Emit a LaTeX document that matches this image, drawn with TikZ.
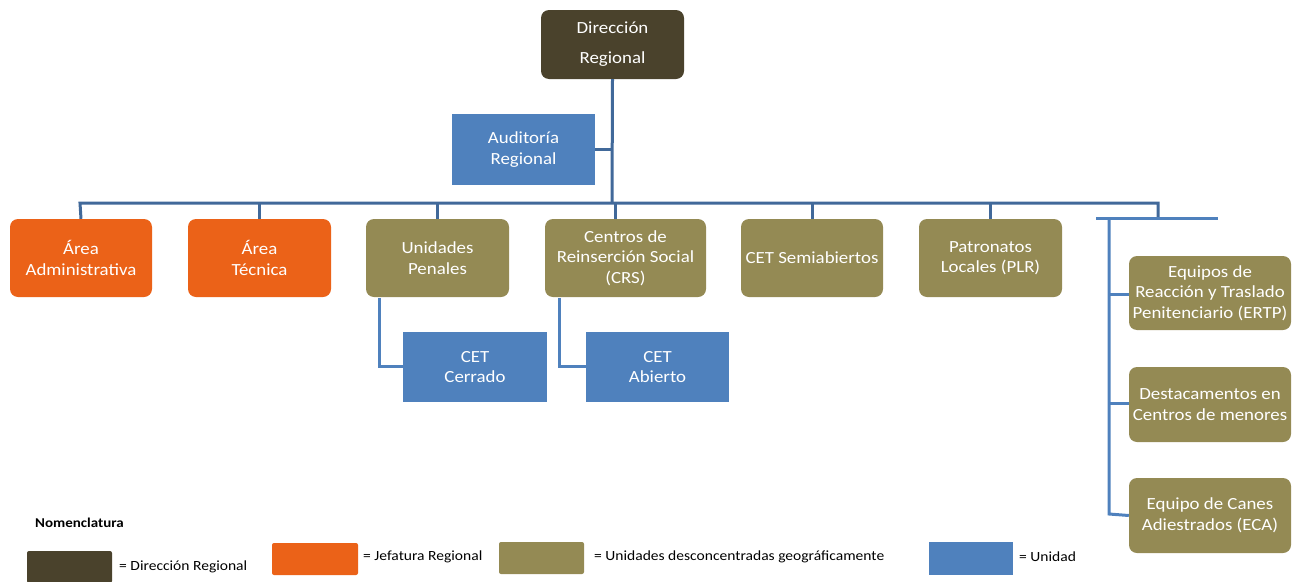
\documentclass[tikz,border=0pt]{standalone}
\usepackage{fontspec}
\setmainfont[FakeStretch=1.11]{Carlito}
\begin{document}
\begin{tikzpicture}[x=1pt,y=-1pt,
  box/.style={draw=none, rounded corners=8pt, text=white, align=center, inner sep=0pt,
    font=\fontsize{17}{20.5}\selectfont},
  dark/.style={box, fill=darkc},
  orng/.style={box, fill=orangec},
  olive/.style={box, fill=olivec},
  unit/.style={box, rounded corners=0pt, fill=bluec},
  bus/.style={draw=busc, line width=3pt},
  sub/.style={draw=bluec, line width=3pt},
  legtxt/.style={anchor=west, inner sep=0pt, font=\fontsize{14}{16}\selectfont}
]
\definecolor{darkc}{HTML}{4A422C}
\definecolor{orangec}{HTML}{EB6218}
\definecolor{olivec}{HTML}{948A54}
\definecolor{bluec}{HTML}{4F81BD}
\definecolor{busc}{HTML}{41699A}
\useasboundingbox (0,0) rectangle (1293,581);

% boxes
\node[dark, minimum width=143pt, minimum height=69pt, font=\fontsize{17}{30}\selectfont] (dr) at (612.5,44.5) {Dirección\\Regional};
\node[unit, minimum width=143pt, minimum height=71pt] (aud) at (523.5,149.5) {Auditoría\\Regional};

\node[orng, minimum width=142pt, minimum height=78pt] (adm) at (81,258) {Área\\Administrativa};
\node[orng, minimum width=143pt, minimum height=78pt] (tec) at (259.5,258) {Área\\Técnica};
\node[olive, minimum width=143pt, minimum height=78pt] (up) at (437.5,258) {Unidades\\Penales};
\node[olive, minimum width=161pt, minimum height=78pt] (crs) at (625.5,258) {Centros de\\Reinserción Social\\(CRS)};
\node[olive, minimum width=142pt, minimum height=78pt] (semi) at (812,258) {CET Semiabiertos};
\node[olive, minimum width=143pt, minimum height=78pt] (plr) at (990.5,258) {Patronatos\\Locales (PLR)};

\node[unit, minimum width=144pt, minimum height=70pt] (cer) at (475,367) {CET\\Cerrado};
\node[unit, minimum width=143pt, minimum height=70pt] (abi) at (657.5,367) {CET\\Abierto};

\node[olive, minimum width=162pt, minimum height=74pt] (ertp) at (1210,293) {Equipos de\\Reacción y Traslado\\Penitenciario (ERTP)};
\node[olive, minimum width=162pt, minimum height=75pt] (dcm) at (1210,404.5) {Destacamentos en\\Centros de menores};
\node[olive, minimum width=162pt, minimum height=75pt] (eca) at (1210,515.5) {Equipo de Canes\\Adiestrados (ECA)};

% connectors
\coordinate (b0) at (612,203);
\coordinate (bl) at (80,203);
\coordinate (br) at (1158,203);
\draw[bus] (dr.south) -- (b0);
\draw[bus] (aud.east) -- (aud.east -| b0);
\draw[bus] (adm.north) -- (bl) -- (br) -- (1158,217.5);
\draw[bus] (tec.north) -- (tec.north |- b0);
\draw[bus] (up.north) -- (up.north |- b0);
\draw[bus] (crs.north -| 615,0) -- (615,203);
\draw[bus] (semi.north) -- (semi.north |- b0);
\draw[bus] (plr.north) -- (plr.north |- b0);

\coordinate (r1) at (1096,218);
\coordinate (r2) at (1218,218);
\draw[sub] (r1) -- (r2);
\draw[sub] (1109,218) -- (1109,514) -- (eca.west);
\draw[sub] (1109,294) -- (ertp.west |- 0,294);
\draw[sub] (1109,403) -- (dcm.west |- 0,403);

\draw[sub] (379,298) -- (379,366) -- (cer.west |- 0,366);
\draw[sub] (559,298) -- (559,366) -- (abi.west |- 0,366);

% legend
\node[anchor=west, inner sep=0pt, font=\fontsize{13.5}{15}\selectfont\bfseries] (nom) at (35,523) {Nomenclatura};
\node[fill=darkc, rounded corners=2pt, minimum width=85pt, minimum height=32pt, inner sep=0pt] (l1) at (69.5,567) {};
\node[legtxt] (t1) at (119,567) {= Dirección Regional};
\node[fill=orangec, rounded corners=2pt, minimum width=86pt, minimum height=32pt, inner sep=0pt] (l2) at (315,559) {};
\node[legtxt] (t2) at (363,557) {= Jefatura Regional};
\node[fill=olivec, rounded corners=2pt, minimum width=85pt, minimum height=32pt, inner sep=0pt] (l3) at (541.5,558) {};
\node[legtxt] (t3) at (594,557) {= Unidades desconcentradas geográficamente};
\node[fill=bluec, minimum width=84pt, minimum height=33pt, inner sep=0pt] (l4) at (971,558.5) {};
\node[legtxt] (t4) at (1019,557) {= Unidad};
\end{tikzpicture}
\end{document}
